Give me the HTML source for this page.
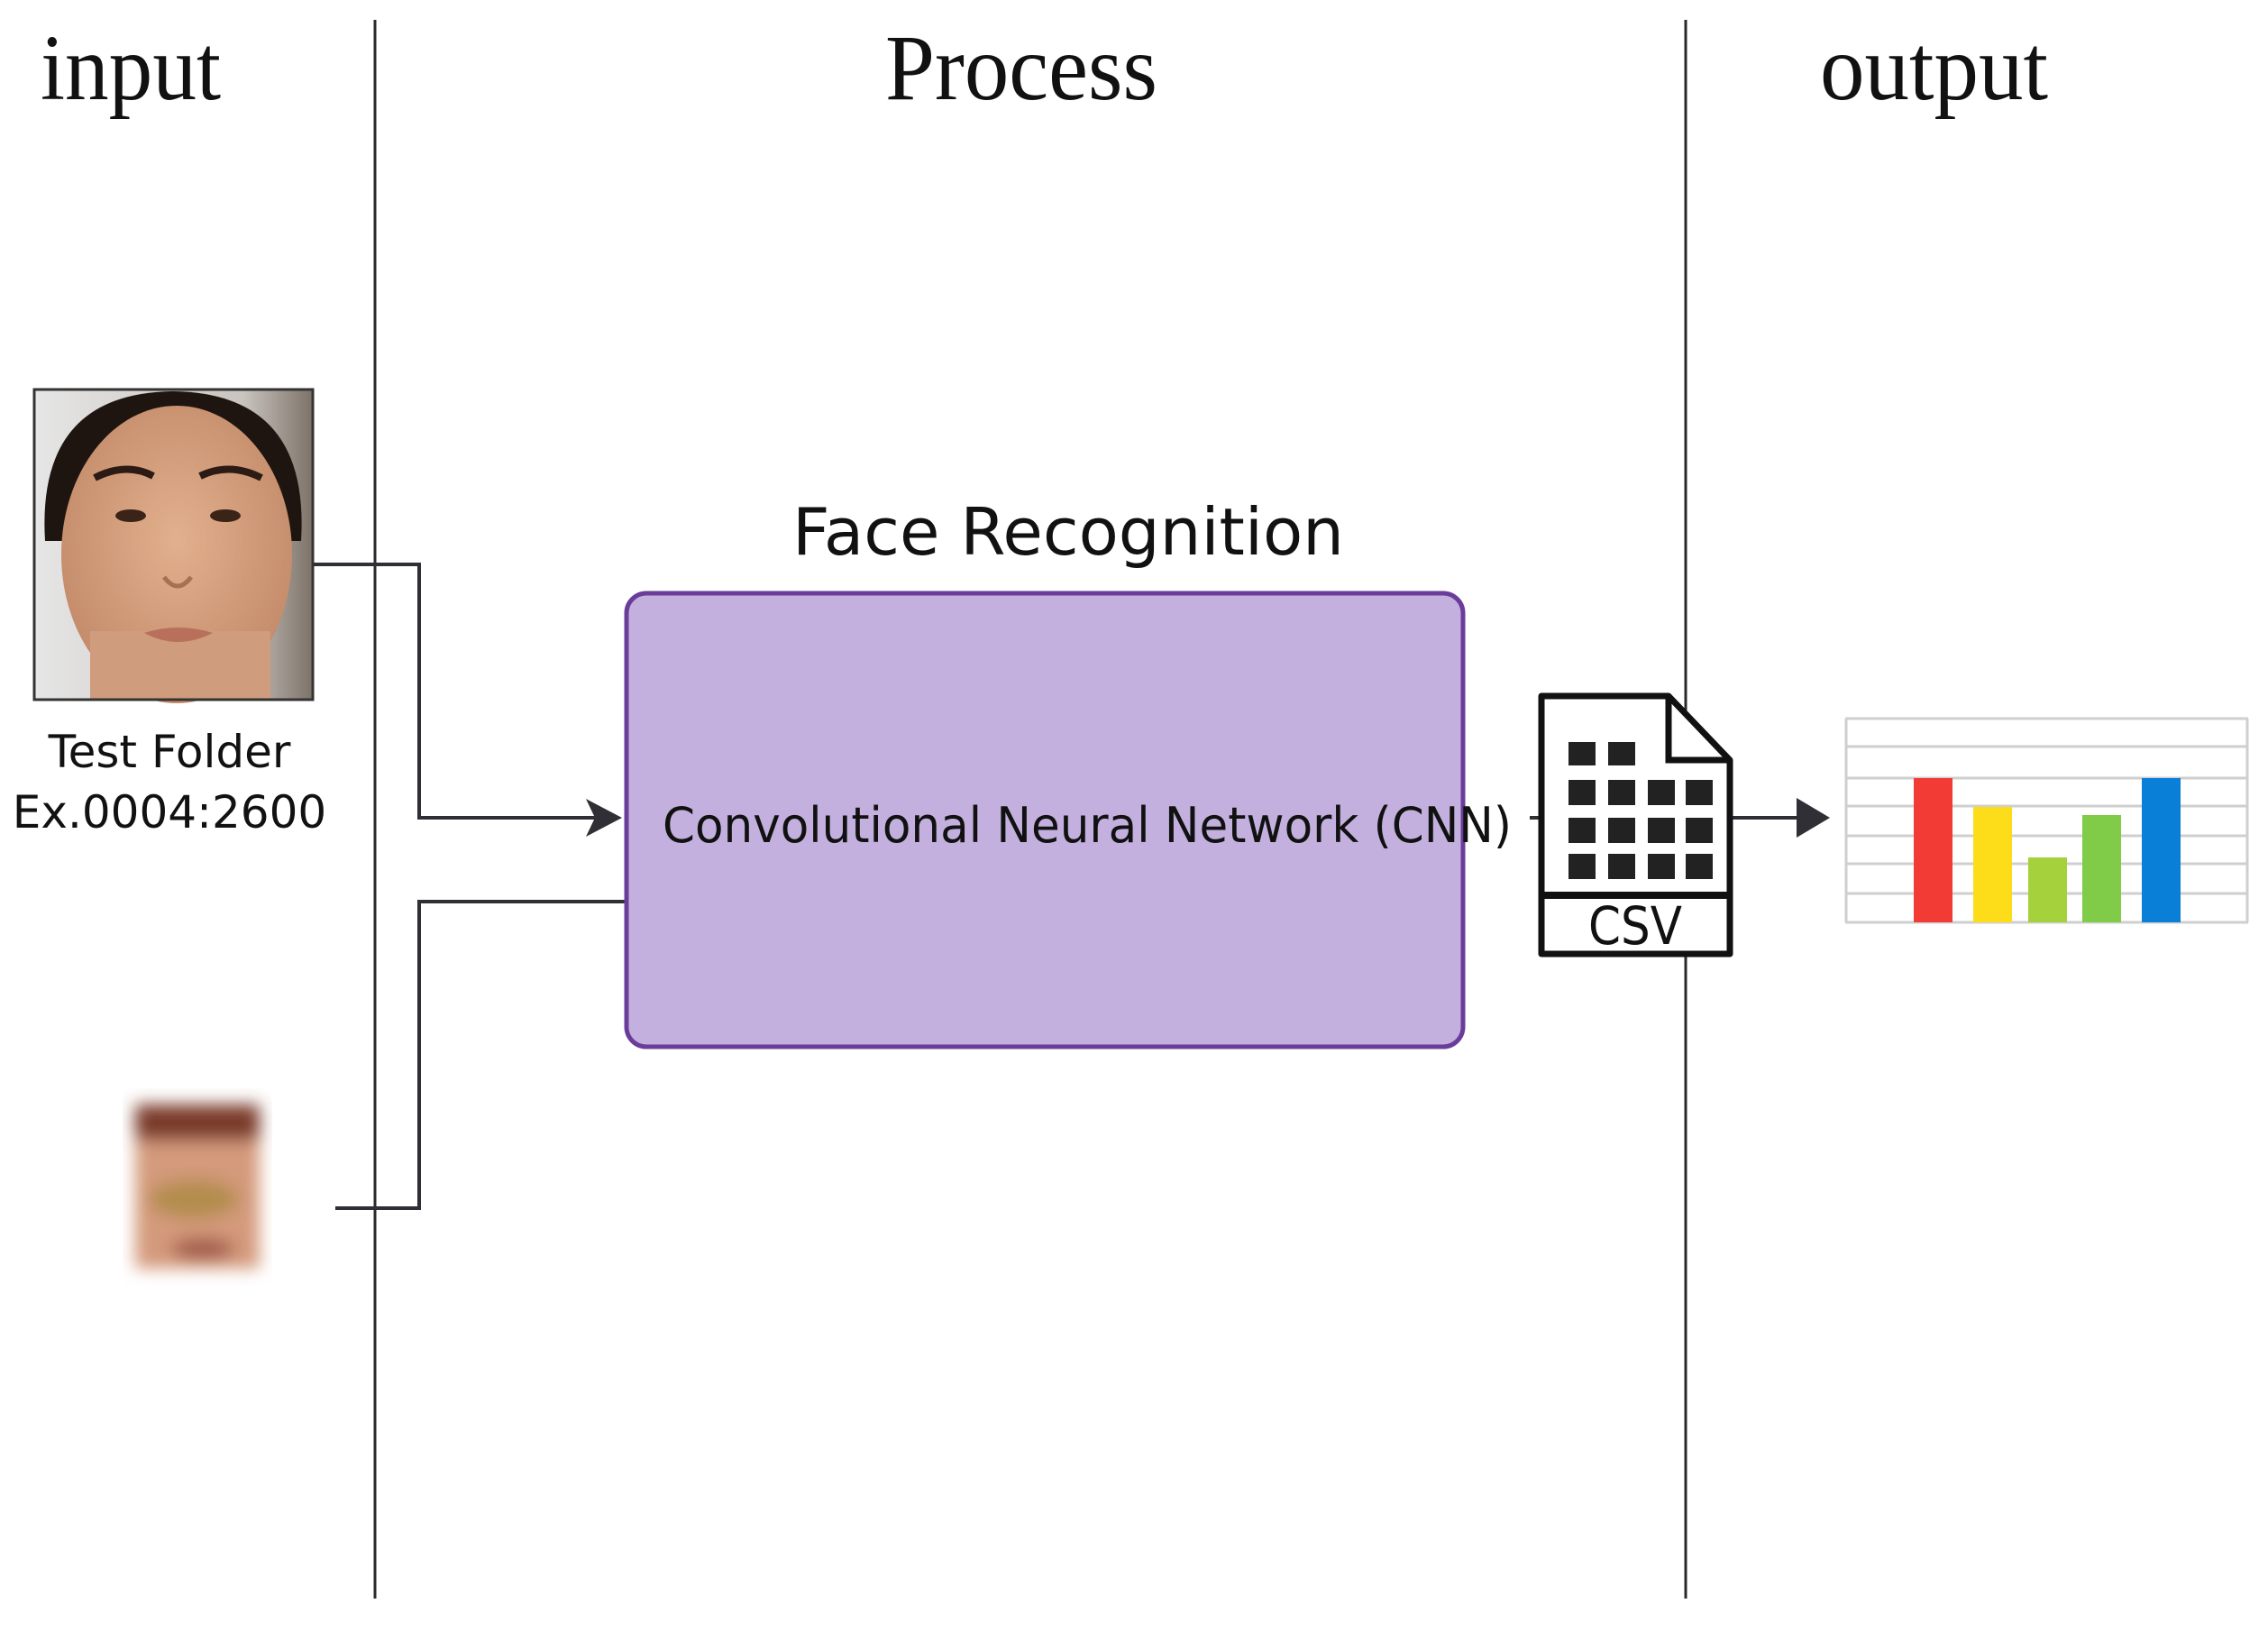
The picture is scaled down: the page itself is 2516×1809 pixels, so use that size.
<!DOCTYPE html>
<html><head><meta charset="utf-8"><style>
html,body{margin:0;padding:0;background:#fff;}
svg{display:block;}
</style></head><body>
<svg width="2516" height="1809" viewBox="0 0 2516 1809" xmlns="http://www.w3.org/2000/svg">
<defs>
<filter id="blur"><feGaussianBlur stdDeviation="9"/></filter>
<linearGradient id="bg1" x1="0" x2="1"><stop offset="0" stop-color="#e6e6e6"/><stop offset="0.75" stop-color="#c9c4bf"/><stop offset="1" stop-color="#7d7268"/></linearGradient>
<radialGradient id="skin" cx="0.5" cy="0.45" r="0.6"><stop offset="0" stop-color="#e2b08e"/><stop offset="1" stop-color="#c18867"/></radialGradient>
</defs>
<rect width="2516" height="1809" fill="#fff"/>
<line x1="416" y1="22" x2="416" y2="1773" stroke="#2a2a2a" stroke-width="3"/>
<line x1="1870" y1="22" x2="1870" y2="1773" stroke="#2a2a2a" stroke-width="3"/>
<g font-family="Liberation Serif, serif" font-size="104" fill="#111">
<text x="45" y="110" textLength="200" lengthAdjust="spacingAndGlyphs">input</text>
<text x="982" y="110" textLength="302" lengthAdjust="spacingAndGlyphs">Process</text>
<text x="2019" y="110" textLength="253" lengthAdjust="spacingAndGlyphs">output</text>
</g>
<!-- face photo -->
<rect x="38" y="432" width="309" height="344" fill="url(#bg1)"/>
<path d="M50 600 Q40 436 192 434 Q344 436 334 600 L300 600 L100 600 Z" fill="#1e1511"/>
<ellipse cx="196" cy="615" rx="128" ry="165" fill="url(#skin)"/>
<rect x="100" y="700" width="200" height="76" fill="#cf9c7d"/>
<path d="M105 530 Q140 512 170 528" stroke="#2b1b14" stroke-width="8" fill="none"/>
<path d="M222 528 Q255 512 290 530" stroke="#2b1b14" stroke-width="8" fill="none"/>
<ellipse cx="145" cy="572" rx="17" ry="7" fill="#3a2418"/>
<ellipse cx="250" cy="572" rx="17" ry="7" fill="#3a2418"/>
<path d="M182 640 Q197 660 212 640" stroke="#a86f52" stroke-width="5" fill="none"/>
<path d="M160 702 Q197 690 236 702 Q197 722 160 702 Z" fill="#b8705c"/>
<rect x="38" y="432" width="309" height="344" fill="none" stroke="#333" stroke-width="3"/>
<g font-family="DejaVu Sans, Liberation Sans, sans-serif" font-size="50" fill="#111" text-anchor="middle">
<text x="188" y="851">Test Folder</text>
<text x="188" y="918">Ex.0004:2600</text>
</g>
<g filter="url(#blur)">
<rect x="150" y="1225" width="138" height="182" fill="#d49a7c"/>
<rect x="150" y="1225" width="138" height="40" fill="#7a3a2c"/>
<ellipse cx="215" cy="1330" rx="50" ry="22" fill="#b48d4d"/>
<ellipse cx="225" cy="1385" rx="35" ry="12" fill="#a05a4a"/>
</g>
<g stroke="#2f2f35" stroke-width="4" fill="none">
<polyline points="347,626 465,626 465,907 665,907"/>
<polyline points="372,1340 465,1340 465,1000 693,1000"/>
<line x1="1697" y1="907" x2="1710" y2="907"/>
<line x1="1921" y1="907" x2="2005" y2="907"/>
</g>
<polygon points="690,907 650,886 660,907 650,928" fill="#2f2f35"/>
<polygon points="2030,907 1993,885 1993,929" fill="#2f2f35"/>
<rect x="695" y="658" width="928" height="503" rx="22" fill="#c3b0de" stroke="#6a3d9a" stroke-width="5"/>
<text x="1185" y="615" font-family="DejaVu Sans, Liberation Sans, sans-serif" font-size="72" fill="#111" text-anchor="middle" textLength="612" lengthAdjust="spacingAndGlyphs">Face Recognition</text>
<text x="735" y="934" font-family="DejaVu Sans, Liberation Sans, sans-serif" font-size="54" fill="#111" textLength="942" lengthAdjust="spacingAndGlyphs">Convolutional Neural Network (CNN)</text>
<!-- CSV icon -->
<path d="M1710 772 L1851 772 L1919 843 L1919 1058 L1710 1058 Z" fill="#fff" stroke="#111" stroke-width="7" stroke-linejoin="round"/>
<path d="M1851 772 L1851 843 L1919 843" fill="none" stroke="#111" stroke-width="7"/>
<line x1="1710" y1="993" x2="1919" y2="993" stroke="#111" stroke-width="8"/>
<g fill="#222">
<rect x="1740" y="823" width="30" height="26"/><rect x="1784" y="823" width="30" height="26"/>
<rect x="1740" y="865" width="30" height="28"/><rect x="1784" y="865" width="30" height="28"/><rect x="1828" y="865" width="30" height="28"/><rect x="1870" y="865" width="30" height="28"/>
<rect x="1740" y="907" width="30" height="28"/><rect x="1784" y="907" width="30" height="28"/><rect x="1828" y="907" width="30" height="28"/><rect x="1870" y="907" width="30" height="28"/>
<rect x="1740" y="947" width="30" height="28"/><rect x="1784" y="947" width="30" height="28"/><rect x="1828" y="947" width="30" height="28"/><rect x="1870" y="947" width="30" height="28"/>
</g>
<text x="1814" y="1047" font-family="DejaVu Sans, Liberation Sans, sans-serif" font-size="58" fill="#111" text-anchor="middle" textLength="104" lengthAdjust="spacingAndGlyphs">CSV</text>
<!-- chart -->
<g stroke="#cfcfcf" stroke-width="3">
<line x1="2047" y1="797" x2="2494" y2="797"/>
<line x1="2047" y1="828" x2="2494" y2="828"/>
<line x1="2047" y1="863" x2="2494" y2="863"/>
<line x1="2047" y1="894" x2="2494" y2="894"/>
<line x1="2047" y1="927" x2="2494" y2="927"/>
<line x1="2047" y1="958" x2="2494" y2="958"/>
<line x1="2047" y1="991" x2="2494" y2="991"/>
<line x1="2047" y1="1023" x2="2494" y2="1023"/>
<line x1="2048" y1="797" x2="2048" y2="1023"/>
<line x1="2493" y1="797" x2="2493" y2="1023"/>
</g>
<rect x="2123" y="863" width="43" height="160" fill="#f33b36"/>
<rect x="2189" y="895" width="43" height="128" fill="#fddd1a"/>
<rect x="2250" y="951" width="43" height="72" fill="#a4d13c"/>
<rect x="2310" y="904" width="43" height="119" fill="#80cc48"/>
<rect x="2376" y="863" width="43" height="160" fill="#0a7fd8"/>
</svg>
</body></html>
